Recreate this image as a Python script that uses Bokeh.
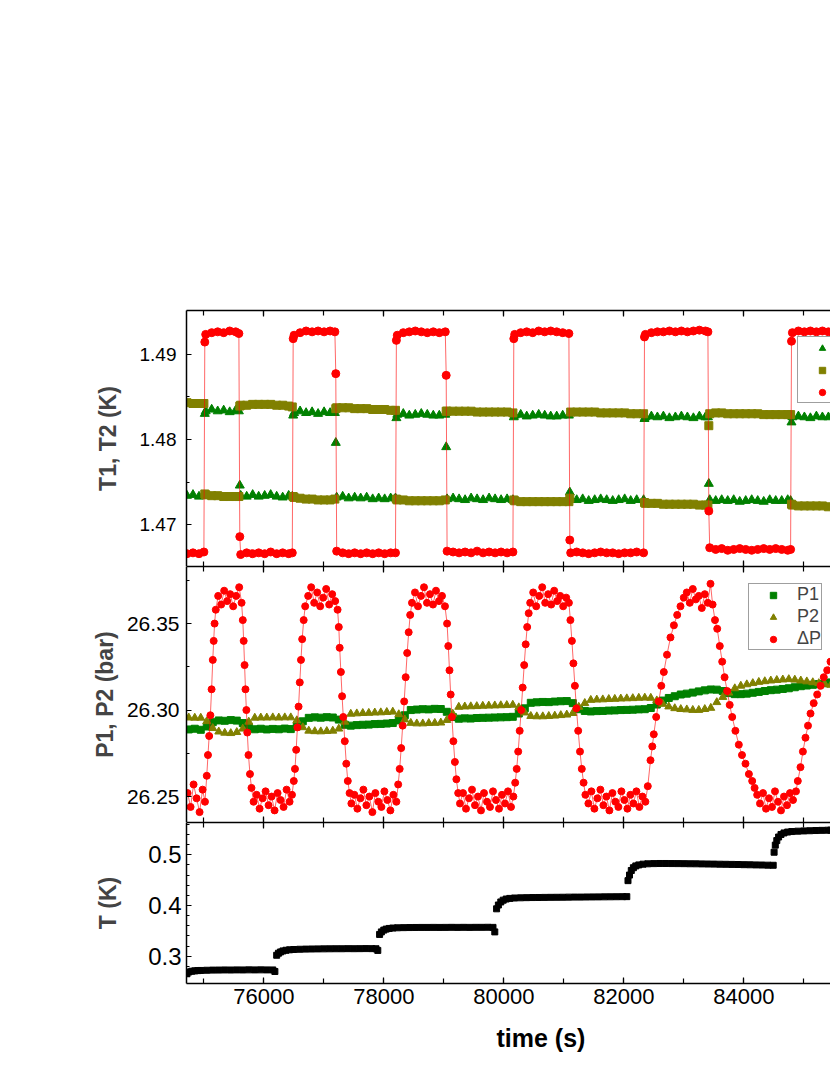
from bokeh.plotting import figure
from bokeh.layouts import column
from bokeh.models import (Range1d, FixedTicker, PrintfTickFormatter, CustomJSTickFormatter,
                          LinearAxis, Legend, LegendItem, Title)
from bokeh.embed import file_html
from bokeh.resources import INLINE

FONT = "Liberation Sans"
GREEN = "#008000"
OLIVE = "#808000"
RED = "#ff0000"

# ---------------- axis ticks ----------------
x_major = [76000, 78000, 80000, 82000, 84000]
x_minor = [75000, 76000, 77000, 78000, 79000, 80000, 81000, 82000, 83000, 84000, 85000]
top_ticks = [1.47, 1.48, 1.49]
top_minor = [1.475, 1.485]
mid_ticks = [26.25, 26.30, 26.35]
mid_minor = [26.275, 26.325, 26.375]
bot_ticks = [0.3, 0.4, 0.5]
bot_minor = [0.26, 0.28, 0.32, 0.34, 0.36, 0.38, 0.42, 0.44, 0.46, 0.48, 0.52, 0.54, 0.56]

# ---------------- top panel: T1, T2, dT ----------------
t_top = [
    74720, 74820, 74920, 75002, 75017,
    75032, 75132, 75232, 75332, 75432, 75532, 75585, 75600,
    75615, 75715, 75815, 75915, 76015, 76115, 76215, 76315, 76415, 76475, 76490,
    76505, 76605, 76705, 76805, 76905, 77005, 77105, 77185, 77200,
    77215, 77315, 77415, 77515, 77615, 77715, 77815, 77915, 78015, 78115, 78195, 78210,
    78225, 78325, 78425, 78525, 78625, 78725, 78825, 78925, 79025, 79040,
    79055, 79155, 79255, 79355, 79455, 79555, 79655, 79755, 79855, 79955, 80055, 80152, 80167,
    80182, 80282, 80382, 80482, 80582, 80682, 80782, 80882, 80982, 81085, 81100,
    81115, 81215, 81315, 81415, 81515, 81615, 81715, 81815, 81915, 82015, 82115, 82215, 82330, 82345,
    82360, 82460, 82560, 82660, 82760, 82860, 82960, 83060, 83160, 83260, 83360, 83402, 83417,
    83432, 83532, 83632, 83732, 83832, 83932, 84032, 84132, 84232, 84332, 84432, 84532, 84632, 84732, 84780, 84795,
    84810, 84910, 85010, 85110, 85210, 85310, 85410,
]
dT_top = [
    1.4666, 1.4667, 1.4666, 1.4668, 1.4914,
    1.4923, 1.4925, 1.4926, 1.4925, 1.4927, 1.4926, 1.4924, 1.4686,
    1.4665, 1.4667, 1.4666, 1.4667, 1.4666, 1.4668, 1.4666, 1.4667, 1.4666, 1.4667, 1.4918,
    1.4922, 1.4925, 1.4927, 1.4926, 1.4927, 1.4926, 1.4927, 1.4926, 1.4877,
    1.4669, 1.4667, 1.4666, 1.4667, 1.4666, 1.4667, 1.4666, 1.4667, 1.4666, 1.4667, 1.4667, 1.4916,
    1.4922, 1.4925, 1.4926, 1.4927, 1.4926, 1.4925, 1.4926, 1.4925, 1.4926, 1.4875,
    1.4669, 1.4668, 1.4667, 1.4668, 1.4667, 1.4669, 1.4667, 1.4668, 1.4667, 1.4668, 1.4667, 1.4668, 1.4918,
    1.4923, 1.4925, 1.4926, 1.4925, 1.4927, 1.4926, 1.4927, 1.4926, 1.4925, 1.4924, 1.4682,
    1.4667, 1.4668, 1.4667, 1.4666, 1.4667, 1.4668, 1.4667, 1.4667, 1.4666, 1.4667, 1.4667, 1.4668, 1.4667, 1.4920,
    1.4923, 1.4925, 1.4926, 1.4926, 1.4927, 1.4926, 1.4927, 1.4926, 1.4927, 1.4928, 1.4927, 1.4926, 1.4716,
    1.4673, 1.4671, 1.4672, 1.4670, 1.4671, 1.4672, 1.4671, 1.4670, 1.4671, 1.4672, 1.4671, 1.4672, 1.4671, 1.4670, 1.4671, 1.4915,
    1.4925, 1.4927, 1.4926, 1.4927, 1.4926, 1.4927, 1.4926,
]
T1_top = [
    1.4734, 1.4735, 1.4733, 1.4734, 1.4830,
    1.4833, 1.4835, 1.4833, 1.4834, 1.4832, 1.4834, 1.4833, 1.4746,
    1.4734, 1.4733, 1.4735, 1.4733, 1.4734, 1.4735, 1.4733, 1.4732, 1.4734, 1.4733, 1.4828,
    1.4831, 1.4833, 1.4831, 1.4832, 1.4830, 1.4832, 1.4831, 1.4831, 1.4796,
    1.4732, 1.4733, 1.4731, 1.4732, 1.4731, 1.4732, 1.4730, 1.4731, 1.4730, 1.4731, 1.4731, 1.4825,
    1.4829, 1.4830, 1.4828, 1.4829, 1.4830, 1.4829, 1.4828, 1.4828, 1.4829, 1.4791,
    1.4730, 1.4731, 1.4730, 1.4729, 1.4731, 1.4730, 1.4729, 1.4731, 1.4730, 1.4729, 1.4730, 1.4729, 1.4826,
    1.4828, 1.4829, 1.4827, 1.4828, 1.4829, 1.4828, 1.4827, 1.4827, 1.4828, 1.4828, 1.4738,
    1.4730, 1.4729, 1.4730, 1.4728, 1.4729, 1.4730, 1.4729, 1.4728, 1.4729, 1.4730, 1.4728, 1.4729, 1.4729, 1.4824,
    1.4826, 1.4827, 1.4826, 1.4827, 1.4825, 1.4826, 1.4827, 1.4826, 1.4825, 1.4827, 1.4826, 1.4826, 1.4748,
    1.4729, 1.4728, 1.4729, 1.4728, 1.4729, 1.4727, 1.4728, 1.4729, 1.4728, 1.4727, 1.4729, 1.4728, 1.4728, 1.4729, 1.4728, 1.4820,
    1.4826, 1.4827, 1.4826, 1.4825, 1.4827, 1.4826, 1.4826,
]
T2_top = [
    1.4843, 1.4842, 1.4842, 1.4842, 1.4736,
    1.4735, 1.4734, 1.4734, 1.4733, 1.4733, 1.4733, 1.4733, 1.4839,
    1.4840, 1.4840, 1.4841, 1.4841, 1.4841, 1.4841, 1.4840, 1.4840, 1.4839, 1.4838, 1.4733,
    1.4732, 1.4731, 1.4730, 1.4730, 1.4729, 1.4729, 1.4729, 1.4730, 1.4836,
    1.4837, 1.4837, 1.4837, 1.4836, 1.4836, 1.4836, 1.4835, 1.4835, 1.4835, 1.4834, 1.4834, 1.4730,
    1.4729, 1.4729, 1.4728, 1.4728, 1.4728, 1.4728, 1.4728, 1.4728, 1.4729, 1.4833,
    1.4833, 1.4833, 1.4833, 1.4833, 1.4833, 1.4832, 1.4832, 1.4832, 1.4832, 1.4832, 1.4832, 1.4831, 1.4729,
    1.4728, 1.4727, 1.4727, 1.4727, 1.4727, 1.4727, 1.4727, 1.4727, 1.4727, 1.4727, 1.4731,
    1.4832, 1.4832, 1.4832, 1.4832, 1.4832, 1.4831, 1.4831, 1.4831, 1.4831, 1.4831, 1.4830, 1.4830, 1.4830, 1.4726,
    1.4725, 1.4725, 1.4725, 1.4724, 1.4724, 1.4724, 1.4724, 1.4724, 1.4724, 1.4723, 1.4723, 1.4723, 1.4816,
    1.4830, 1.4831, 1.4831, 1.4830, 1.4830, 1.4830, 1.4830, 1.4830, 1.4830, 1.4829, 1.4829, 1.4829, 1.4829, 1.4829, 1.4829, 1.4724,
    1.4723, 1.4722, 1.4722, 1.4722, 1.4722, 1.4722, 1.4721,
]

# ---------------- middle panel: P1, P2, dP ----------------
t_p = [
    74750, 74850, 74950, 75050, 75150, 75250, 75350, 75450, 75550, 75650, 75750, 75850,
    75950, 76050, 76150, 76250, 76350, 76450, 76550, 76650, 76750, 76850, 76950, 77050,
    77150, 77250, 77350, 77450, 77550, 77650, 77750, 77850, 77950, 78050, 78150, 78250,
    78350, 78450, 78550, 78650, 78750, 78850, 78950, 79050, 79150, 79250, 79350, 79450,
    79550, 79650, 79750, 79850, 79950, 80050, 80150, 80250, 80350, 80450, 80550, 80650,
    80750, 80850, 80950, 81050, 81150, 81250, 81350, 81450, 81550, 81650, 81750, 81850,
    81950, 82050, 82150, 82250, 82350, 82450, 82550, 82650, 82750, 82850, 82950, 83050,
    83150, 83250, 83350, 83450, 83550, 83650, 83750, 83850, 83950, 84050, 84150, 84250,
    84350, 84450, 84550, 84650, 84750, 84850, 84950, 85050, 85150, 85250, 85350, 85450,
]
P1 = [
    26.2888, 26.2892, 26.2886,
    26.2905, 26.2930,
    26.2940, 26.2938, 26.2942, 26.2939,
    26.2925, 26.2900,
    26.2889, 26.2892, 26.2888, 26.2891, 26.2889, 26.2893, 26.2890,
    26.2905, 26.2935,
    26.2955, 26.2958, 26.2956, 26.2959, 26.2957,
    26.2945, 26.2915,
    26.2910, 26.2913, 26.2915, 26.2916, 26.2919, 26.2920, 26.2922, 26.2925,
    26.2940, 26.2970,
    26.3000, 26.3003, 26.3005, 26.3004, 26.3007, 26.3006,
    26.2990, 26.2960,
    26.2950, 26.2952, 26.2951, 26.2954, 26.2955, 26.2956, 26.2957, 26.2958, 26.2959, 26.2961,
    26.2980, 26.3010,
    26.3042, 26.3045, 26.3047, 26.3046, 26.3049, 26.3051, 26.3052,
    26.3040, 26.3005, 26.2995,
    26.2992, 26.2994, 26.2995, 26.2997, 26.2998, 26.3000, 26.3001, 26.3002, 26.3004, 26.3005,
    26.3012, 26.3032, 26.3055, 26.3070, 26.3080, 26.3090,
    26.3095, 26.3101, 26.3108, 26.3114, 26.3119,
    26.3118, 26.3110, 26.3098, 26.3092, 26.3092, 26.3095, 26.3100,
    26.3105, 26.3110, 26.3115, 26.3118, 26.3122, 26.3126, 26.3132,
    26.3138, 26.3142, 26.3146, 26.3150, 26.3155, 26.3160,
]
P2 = [
    26.2956, 26.2955, 26.2955,
    26.2935, 26.2895,
    26.2875, 26.2868, 26.2866, 26.2872,
    26.2892, 26.2932,
    26.2955, 26.2956, 26.2956, 26.2957, 26.2956, 26.2957, 26.2957,
    26.2940, 26.2900,
    26.2880, 26.2877, 26.2876, 26.2878, 26.2880,
    26.2892, 26.2932,
    26.2978, 26.2980, 26.2982, 26.2983, 26.2985, 26.2986, 26.2988, 26.2990,
    26.2975, 26.2945,
    26.2925, 26.2922, 26.2922, 26.2924, 26.2925, 26.2927,
    26.2942, 26.2978,
    26.3018, 26.3020, 26.3021, 26.3022, 26.3024, 26.3025, 26.3026, 26.3027, 26.3028, 26.3030,
    26.3015, 26.2985,
    26.2965, 26.2963, 26.2963, 26.2965, 26.2967, 26.2970, 26.2973,
    26.2982, 26.3018, 26.3040,
    26.3058, 26.3060, 26.3061, 26.3063, 26.3064, 26.3066, 26.3067, 26.3068, 26.3070, 26.3071,
    26.3070, 26.3055, 26.3035, 26.3020, 26.3010, 26.3005,
    26.3003, 26.3000, 26.3000, 26.3005, 26.3012,
    26.3045, 26.3075, 26.3100, 26.3125, 26.3140, 26.3148, 26.3155,
    26.3162, 26.3166, 26.3170, 26.3173, 26.3176, 26.3178, 26.3175,
    26.3170, 26.3165, 26.3160, 26.3155, 26.3150, 26.3145,
]
dP = [
    (74730, 26.252), (74780, 26.244), (74830, 26.257), (74880, 26.249), (74930, 26.241), (74980, 26.254), (75020, 26.247),
    (75050, 26.262), (75070, 26.274), (75090, 26.285), (75110, 26.297), (75130, 26.312), (75150, 26.329), (75165, 26.340), (75180, 26.350),
    (75200, 26.358), (75240, 26.366), (75290, 26.361), (75340, 26.369), (75390, 26.363), (75440, 26.367), (75490, 26.360), (75540, 26.366), (75590, 26.371), (75630, 26.362),
    (75650, 26.352), (75665, 26.340), (75680, 26.326), (75695, 26.312), (75710, 26.300), (75725, 26.287), (75745, 26.274), (75770, 26.263), (75795, 26.255),
    (75830, 26.247), (75880, 26.251), (75930, 26.243), (75980, 26.249), (76030, 26.253), (76080, 26.245), (76130, 26.250), (76180, 26.242), (76230, 26.252), (76280, 26.248), (76330, 26.244), (76380, 26.254), (76430, 26.247), (76470, 26.251),
    (76500, 26.259), (76520, 26.266), (76540, 26.277), (76560, 26.290), (76580, 26.302), (76600, 26.316), (76620, 26.329), (76640, 26.341), (76665, 26.352),
    (76690, 26.360), (76740, 26.366), (76790, 26.371), (76840, 26.362), (76890, 26.368), (76940, 26.360), (76990, 26.365), (77040, 26.370), (77090, 26.361), (77140, 26.367), (77190, 26.363), (77230, 26.358),
    (77250, 26.348), (77265, 26.336), (77285, 26.322), (77305, 26.308), (77325, 26.296), (77350, 26.282), (77375, 26.269), (77400, 26.259), (77430, 26.252),
    (77460, 26.246), (77510, 26.251), (77560, 26.243), (77610, 26.249), (77660, 26.254), (77710, 26.245), (77760, 26.250), (77810, 26.241), (77860, 26.252), (77910, 26.247), (77960, 26.244), (78010, 26.253), (78060, 26.248), (78110, 26.242), (78160, 26.251), (78210, 26.247),
    (78240, 26.257), (78265, 26.266), (78290, 26.278), (78315, 26.291), (78340, 26.305), (78365, 26.319), (78390, 26.333), (78415, 26.345), (78440, 26.355),
    (78470, 26.362), (78520, 26.368), (78570, 26.360), (78620, 26.366), (78670, 26.371), (78720, 26.362), (78770, 26.367), (78820, 26.361), (78870, 26.369), (78920, 26.363), (78970, 26.366), (79020, 26.360),
    (79055, 26.350), (79075, 26.337), (79095, 26.323), (79115, 26.309), (79135, 26.296), (79160, 26.282), (79185, 26.270), (79210, 26.260), (79240, 26.252),
    (79270, 26.246), (79320, 26.252), (79370, 26.243), (79420, 26.249), (79470, 26.254), (79520, 26.245), (79570, 26.250), (79620, 26.242), (79670, 26.252), (79720, 26.247), (79770, 26.244), (79820, 26.253), (79870, 26.248), (79920, 26.243), (79970, 26.251), (80020, 26.246), (80070, 26.253), (80120, 26.244), (80160, 26.250),
    (80190, 26.258), (80215, 26.266), (80240, 26.276), (80265, 26.288), (80290, 26.300), (80315, 26.313), (80340, 26.326), (80365, 26.338), (80390, 26.348), (80415, 26.356),
    (80440, 26.362), (80490, 26.368), (80540, 26.360), (80590, 26.366), (80640, 26.371), (80690, 26.362), (80740, 26.367), (80790, 26.361), (80840, 26.369), (80890, 26.363), (80940, 26.366), (80990, 26.360), (81040, 26.365), (81085, 26.362),
    (81110, 26.352), (81135, 26.340), (81160, 26.327), (81185, 26.314), (81210, 26.301), (81240, 26.288), (81270, 26.276), (81300, 26.266), (81330, 26.258),
    (81360, 26.251), (81410, 26.246), (81460, 26.253), (81510, 26.243), (81560, 26.249), (81610, 26.254), (81660, 26.245), (81710, 26.250), (81760, 26.242), (81810, 26.252), (81860, 26.247), (81910, 26.244), (81960, 26.253), (82010, 26.248), (82060, 26.243), (82110, 26.251), (82160, 26.246), (82210, 26.253), (82260, 26.244), (82310, 26.250), (82360, 26.247),
    (82400, 26.256), (82445, 26.271), (82475, 26.279), (82500, 26.286), (82540, 26.296), (82583, 26.305), (82625, 26.314), (82667, 26.322), (82720, 26.332), (82778, 26.342), (82835, 26.349), (82890, 26.355), (82945, 26.360), (83000, 26.365),
    (83050, 26.368), (83100, 26.362), (83150, 26.370), (83200, 26.364), (83250, 26.366), (83300, 26.359), (83350, 26.367), (83400, 26.362), (83445, 26.373),
    (83480, 26.361), (83520, 26.352), (83557, 26.347), (83600, 26.337), (83640, 26.328), (83680, 26.319), (83723, 26.311), (83765, 26.303), (83807, 26.296), (83860, 26.288), (83917, 26.280), (83970, 26.274), (84028, 26.269), (84085, 26.263), (84140, 26.259), (84180, 26.255), (84223, 26.251),
    (84270, 26.246), (84320, 26.252), (84370, 26.243), (84420, 26.249), (84470, 26.244), (84520, 26.253), (84570, 26.247), (84620, 26.242), (84670, 26.250), (84720, 26.245), (84770, 26.252), (84820, 26.248), (84870, 26.253),
    (84900, 26.259), (84945, 26.267), (84985, 26.276), (85028, 26.284), (85070, 26.291), (85112, 26.298), (85165, 26.304), (85223, 26.309), (85280, 26.314), (85333, 26.319), (85390, 26.323), (85445, 26.328),
]

# ---------------- bottom panel: T ----------------
T_bot = [
    (74720, 0.2655), (74750, 0.2690), (74800, 0.2705), (74850, 0.2712), (74900, 0.2717), (74950, 0.2720), (75050, 0.2724), (75150, 0.2727), (75250, 0.2728), (75350, 0.2730), (75450, 0.2729), (75550, 0.2731), (75650, 0.2730), (75750, 0.2732), (75850, 0.2731), (75950, 0.2732), (76050, 0.2731), (76150, 0.2730), (76185, 0.2700),
    (76215, 0.3020), (76245, 0.3060), (76280, 0.3085), (76320, 0.3105), (76370, 0.3118), (76430, 0.3127), (76500, 0.3133), (76600, 0.3138), (76700, 0.3141), (76800, 0.3143), (76900, 0.3145), (77000, 0.3146), (77100, 0.3147), (77200, 0.3148), (77300, 0.3148), (77400, 0.3150), (77500, 0.3149), (77600, 0.3150), (77700, 0.3151), (77800, 0.3150), (77870, 0.3148), (77900, 0.3115),
    (77930, 0.3430), (77960, 0.3480), (78000, 0.3515), (78040, 0.3535), (78090, 0.3548), (78150, 0.3556), (78230, 0.3561), (78330, 0.3564), (78430, 0.3566), (78530, 0.3567), (78630, 0.3568), (78730, 0.3568), (78830, 0.3569), (78930, 0.3568), (79030, 0.3569), (79130, 0.3570), (79230, 0.3569), (79330, 0.3570), (79430, 0.3569), (79530, 0.3570), (79630, 0.3570), (79730, 0.3571), (79820, 0.3569), (79850, 0.3480),
    (79880, 0.3935), (79910, 0.4010), (79950, 0.4070), (79990, 0.4105), (80040, 0.4128), (80100, 0.4140), (80180, 0.4148), (80280, 0.4152), (80380, 0.4155), (80480, 0.4157), (80580, 0.4158), (80680, 0.4160), (80780, 0.4161), (80880, 0.4162), (80980, 0.4163), (81080, 0.4165), (81180, 0.4166), (81280, 0.4166), (81380, 0.4168), (81480, 0.4169), (81580, 0.4170), (81680, 0.4171), (81780, 0.4172), (81880, 0.4173), (81980, 0.4174), (82050, 0.4175),
    (82070, 0.4490), (82095, 0.4600), (82125, 0.4690), (82160, 0.4745), (82200, 0.4780), (82250, 0.4800), (82320, 0.4815), (82400, 0.4822), (82500, 0.4826), (82600, 0.4828), (82700, 0.4828), (82800, 0.4827), (82900, 0.4826), (83000, 0.4825), (83100, 0.4823), (83200, 0.4822), (83300, 0.4820), (83400, 0.4818), (83500, 0.4816), (83600, 0.4814), (83700, 0.4812), (83800, 0.4810), (83900, 0.4808), (84000, 0.4805), (84100, 0.4803), (84200, 0.4800), (84300, 0.4798), (84400, 0.4795), (84490, 0.4793),
    (84505, 0.5050), (84525, 0.5190), (84550, 0.5280), (84580, 0.5350), (84620, 0.5400), (84670, 0.5430), (84730, 0.5448), (84800, 0.5458), (84900, 0.5465), (85000, 0.5470), (85100, 0.5474), (85200, 0.5478), (85300, 0.5481), (85400, 0.5484), (85450, 0.5485),
]

dP_t = [a for a, _ in dP]
dP_v = [b for _, b in dP]
Tb_t = [a for a, _ in T_bot]
Tb_v = [b for _, b in T_bot]

# ---------------- figure helpers ----------------
x_rng = Range1d(74712, 85445)
LEFT = 186
WIDTH = 830


def base_style(ax):
    ax.axis_line_color = "black"
    ax.axis_line_width = 1.5
    ax.major_tick_line_color = "black"
    ax.minor_tick_line_color = "black"
    ax.major_tick_line_width = 1.2
    ax.minor_tick_line_width = 1.2
    ax.major_tick_out = 0
    ax.minor_tick_out = 0
    ax.major_label_text_font = FONT
    ax.major_label_text_color = "black"


def hide_labels(ax):
    ax.formatter = CustomJSTickFormatter(code="return '';")
    ax.major_label_text_font_size = "0px"
    ax.major_label_standoff = 0


def make_fig(h, yr, top, bottom, yticks, yminor, yfmt, yfs, ystand, ylabel, ylabstand, xlabels):
    p = figure(width=WIDTH, height=h, x_range=x_rng, y_range=Range1d(*yr),
               output_backend="svg", toolbar_location=None,
               x_axis_location=None, y_axis_location=None,
               min_border_left=LEFT, min_border_right=0,
               min_border_top=top, min_border_bottom=bottom)
    p.outline_line_color = None
    p.xgrid.visible = False
    p.ygrid.visible = False
    for side in ("above", "below"):
        ax = LinearAxis(ticker=FixedTicker(ticks=x_major, minor_ticks=x_minor))
        base_style(ax)
        ax.major_tick_in = 6
        ax.minor_tick_in = 5
        if side == "below" and xlabels:
            ax.formatter = PrintfTickFormatter(format="%d")
            ax.major_label_text_font_size = "22px"
            ax.major_label_standoff = 5
        else:
            hide_labels(ax)
        p.add_layout(ax, side)
    ay = LinearAxis(ticker=FixedTicker(ticks=yticks, minor_ticks=yminor),
                    formatter=PrintfTickFormatter(format=yfmt))
    base_style(ay)
    ay.major_tick_in = 5
    ay.minor_tick_in = 3
    ay.major_label_text_font_size = f"{yfs}px"
    ay.major_label_standoff = ystand
    ay.axis_label = ylabel
    ay.axis_label_text_font = FONT
    ay.axis_label_text_font_style = "bold"
    ay.axis_label_text_font_size = "23px"
    ay.axis_label_standoff = ylabstand
    p.add_layout(ay, "left")
    return p


def make_legend(items, loc):
    lg = Legend(items=items, location=loc, orientation="vertical")
    lg.border_line_color = "#404040"
    lg.border_line_width = 1
    lg.background_fill_color = "white"
    lg.background_fill_alpha = 1.0
    lg.padding = 0
    lg.spacing = 1
    lg.margin = 0
    lg.glyph_width = 48
    lg.glyph_height = 16
    lg.label_height = 21
    lg.label_standoff = 0
    lg.label_text_font = FONT
    lg.label_text_font_size = "18px"
    return lg


# ---------------- top panel ----------------
p1 = make_fig(566, (1.4651, 1.4951), 310, 0, top_ticks, top_minor, "%.2f", 19, 10,
              "T1, T2 (K)", 16, False)
g1 = p1.scatter(t_top, T1_top, marker="triangle", size=9, color=GREEN)
o1 = p1.scatter(t_top, T2_top, marker="square", size=8, color=OLIVE)
p1.line(t_top, dT_top, line_color=RED, line_width=1, line_alpha=0.6)
r1 = p1.scatter(t_top, dT_top, marker="circle", size=8, color=RED)
# legend labels lie beyond the right edge of the page (as in the original), so they are left empty
p1.add_layout(make_legend([LegendItem(label="", renderers=[g1]),
                           LegendItem(label="", renderers=[o1]),
                           LegendItem(label="", renderers=[r1])], (611, 163)))

# ---------------- middle panel ----------------
p2 = make_fig(256, (26.235, 26.383), 0, 0, mid_ticks, mid_minor, "%.2f", 21, 7,
              "P1, P2 (bar)", 6, False)
g2 = p2.scatter(t_p, P1, marker="square", size=7, color=GREEN)
o2 = p2.scatter(t_p, P2, marker="triangle", size=8, color=OLIVE)
p2.line(dP_t, dP_v, line_color=RED, line_width=1, line_alpha=0.6)
r2 = p2.scatter(dP_t, dP_v, marker="circle", size=7, color=RED)
p2.add_layout(make_legend([LegendItem(label="P1", renderers=[g2]),
                           LegendItem(label="P2", renderers=[o2]),
                           LegendItem(label="\u0394P", renderers=[r2])], (562, 172)))

# ---------------- bottom panel ----------------
p3 = make_fig(253, (0.2463, 0.5636), 0, 92, bot_ticks, bot_minor, "%.1f", 24, 5,
              "T (K)", 24, True)
p3.scatter(Tb_t, Tb_v, marker="square", size=6, color="black")
p3.add_layout(Title(text="time (s)", align="left", offset=310, standoff=30,
                    text_font=FONT, text_font_style="bold", text_font_size="25px",
                    text_color="black"), "below")

layout = column(p1, p2, p3)
open("out.html", "w").write(file_html(layout, INLINE))
